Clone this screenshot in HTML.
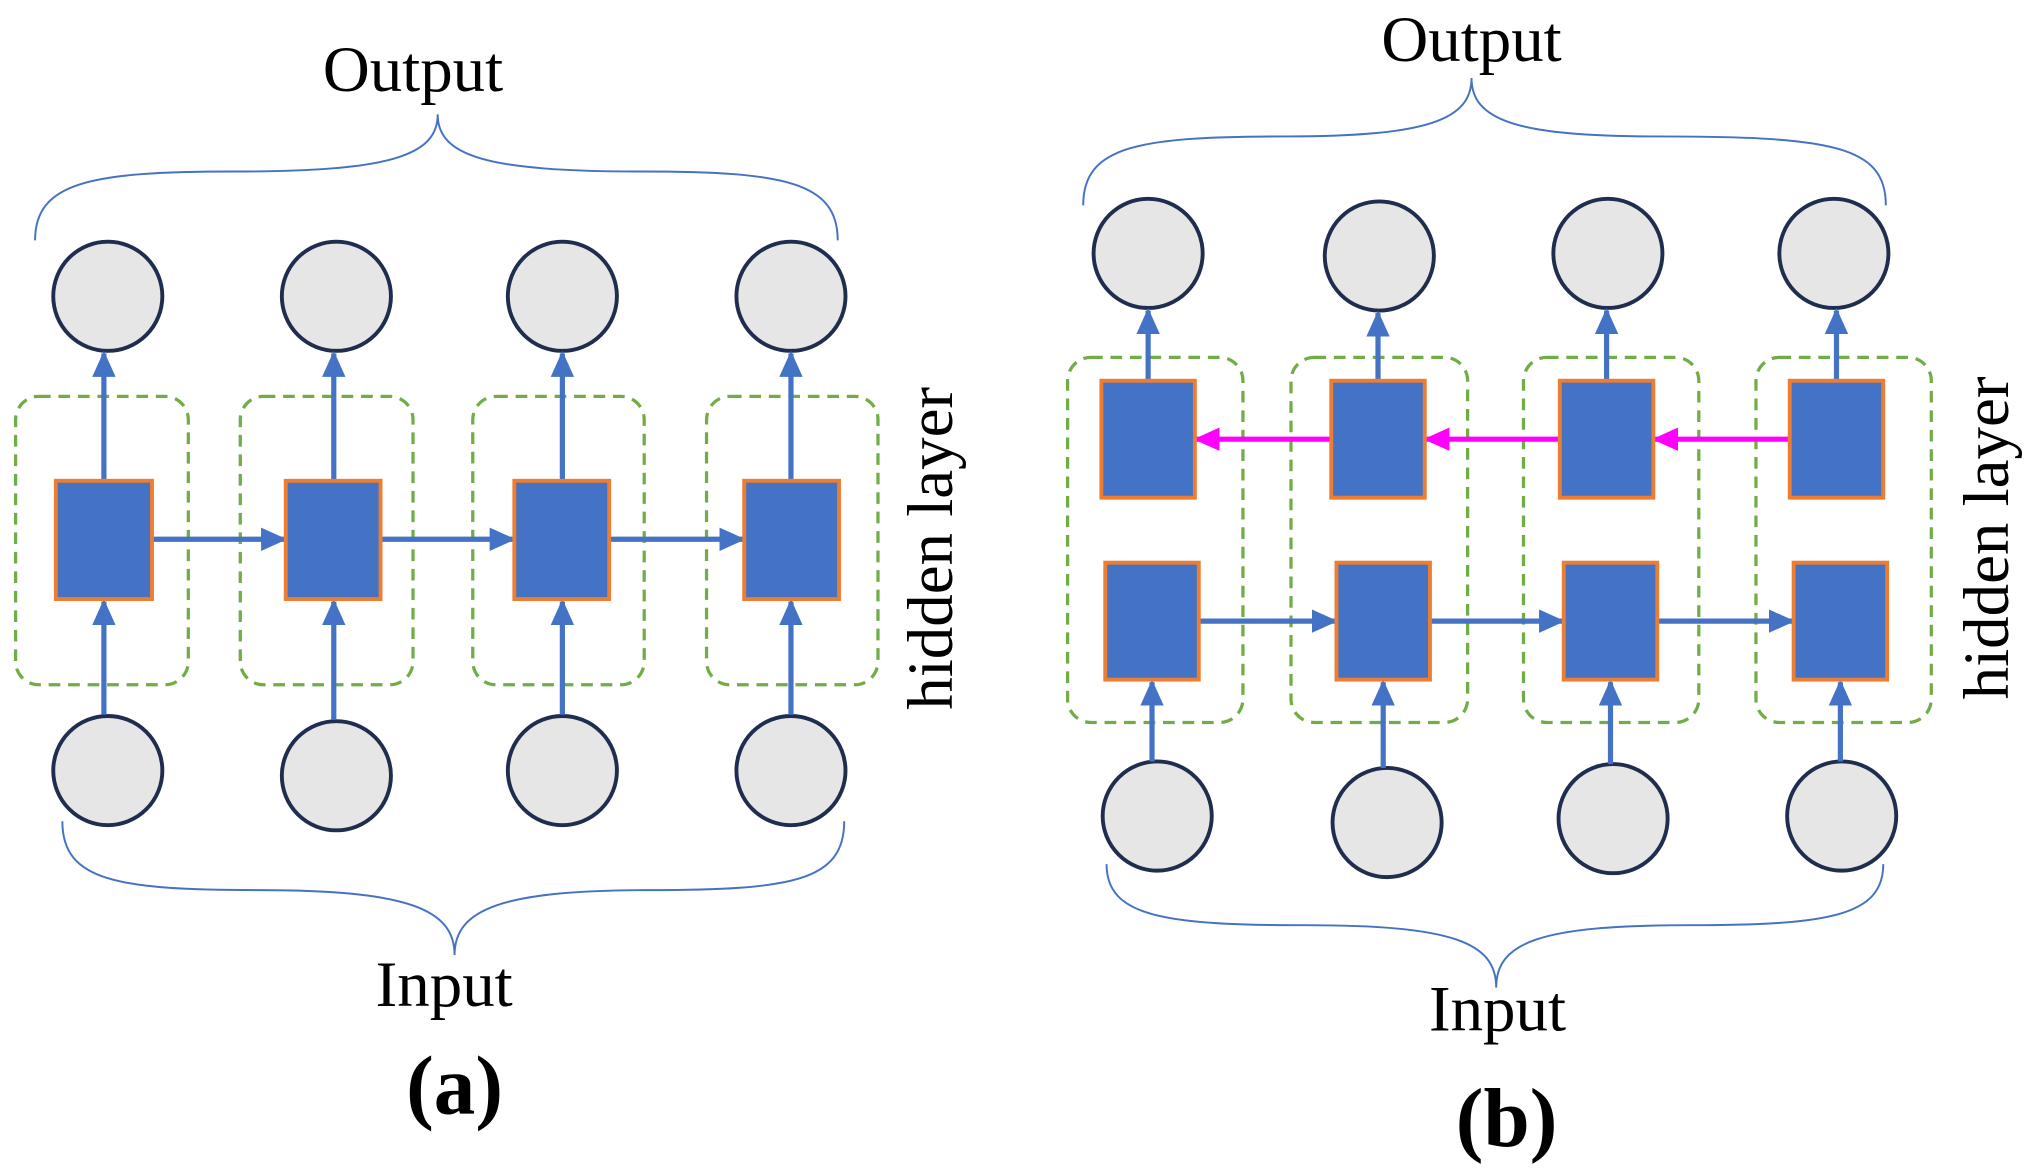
<!DOCTYPE html>
<html><head><meta charset="utf-8"><style>
html,body{margin:0;padding:0;background:#fff;width:2030px;height:1176px;overflow:hidden}
svg{display:block}
text{font-family:"Liberation Serif",serif;fill:#000}
</style></head><body>
<svg width="2030" height="1176" viewBox="0 0 1563 905" preserveAspectRatio="none">
<defs>
<marker id="abl" markerWidth="20" markerHeight="18" refX="18" refY="9" orient="auto" markerUnits="userSpaceOnUse"><path d="M0,0 L20,9 L0,18 z" fill="#4472C4"/></marker>
<marker id="aml" markerWidth="20" markerHeight="18" refX="18" refY="9" orient="auto" markerUnits="userSpaceOnUse"><path d="M0,0 L20,9 L0,18 z" fill="#FF00FF"/></marker>
</defs>
<g fill="none" stroke="#4472C4" stroke-width="1.5">
<path d="M27,185 C27,140 70,132 180,132 C300,132 337,120 337,88 C337,120 374,132 494,132 C604,132 645,140 645,185"/>
<path d="M48,632 C48,678 90,685 200,685 C315,685 350,700 350,735 C350,700 385,685 500,685 C610,685 650,678 650,632"/>
<path d="M834,158 C834,112 877,105 990,105 C1100,105 1133,92 1133,60 C1133,92 1166,105 1276,105 C1410,105 1452,112 1452,158"/>
<path d="M852,665 C852,705 895,712 1005,712 C1118,712 1152,725 1152,760 C1152,725 1186,712 1300,712 C1408,712 1450,705 1450,665"/>
</g>
<g fill="none" stroke="#70AD47" stroke-width="2.5" stroke-dasharray="9,6">
<rect x="12" y="305" width="133" height="222" rx="18"/>
<rect x="185" y="305" width="133" height="222" rx="18"/>
<rect x="364" y="305" width="132" height="222" rx="18"/>
<rect x="544" y="305" width="132" height="222" rx="18"/>
<rect x="822" y="275" width="135" height="281" rx="18"/>
<rect x="994" y="275" width="136" height="281" rx="18"/>
<rect x="1173" y="275" width="135" height="281" rx="18"/>
<rect x="1352" y="275" width="135" height="281" rx="18"/>
</g>
<g fill="#E6E6E6" stroke="#1F2D4E" stroke-width="3">
<circle cx="83" cy="228" r="42"/><circle cx="259" cy="228" r="42"/><circle cx="433" cy="228" r="42"/><circle cx="609" cy="228" r="42"/>
<circle cx="83" cy="593" r="42"/><circle cx="259" cy="597" r="42"/><circle cx="433" cy="593" r="42"/><circle cx="609" cy="593" r="42"/>
<circle cx="884" cy="195" r="42"/><circle cx="1062" cy="197" r="42"/><circle cx="1238" cy="195" r="42"/><circle cx="1412" cy="195" r="42"/>
<circle cx="891" cy="628" r="42"/><circle cx="1068" cy="633" r="42"/><circle cx="1242" cy="630" r="42"/><circle cx="1418" cy="628" r="42"/>
</g>
<g stroke="#4472C4" stroke-width="4" fill="none">
<line x1="80" y1="550" x2="80" y2="463" marker-end="url(#abl)"/>
<line x1="257" y1="554" x2="257" y2="463" marker-end="url(#abl)"/>
<line x1="433" y1="550" x2="433" y2="463" marker-end="url(#abl)"/>
<line x1="609" y1="550" x2="609" y2="463" marker-end="url(#abl)"/>
<line x1="80" y1="370" x2="80" y2="272" marker-end="url(#abl)"/>
<line x1="257" y1="370" x2="257" y2="272" marker-end="url(#abl)"/>
<line x1="433" y1="370" x2="433" y2="272" marker-end="url(#abl)"/>
<line x1="609" y1="370" x2="609" y2="272" marker-end="url(#abl)"/>
<line x1="117" y1="415" x2="219" y2="415" marker-end="url(#abl)"/>
<line x1="293" y1="415" x2="395" y2="415" marker-end="url(#abl)"/>
<line x1="469" y1="415" x2="572" y2="415" marker-end="url(#abl)"/>
<line x1="884" y1="293" x2="884" y2="239" marker-end="url(#abl)"/>
<line x1="1061" y1="293" x2="1061" y2="241" marker-end="url(#abl)"/>
<line x1="1237" y1="293" x2="1237" y2="239" marker-end="url(#abl)"/>
<line x1="1414" y1="293" x2="1414" y2="239" marker-end="url(#abl)"/>
<line x1="887" y1="586" x2="887" y2="525" marker-end="url(#abl)"/>
<line x1="1065" y1="591" x2="1065" y2="525" marker-end="url(#abl)"/>
<line x1="1240" y1="588" x2="1240" y2="525" marker-end="url(#abl)"/>
<line x1="1417" y1="586" x2="1417" y2="525" marker-end="url(#abl)"/>
<line x1="923" y1="478" x2="1028" y2="478" marker-end="url(#abl)"/>
<line x1="1101" y1="478" x2="1203" y2="478" marker-end="url(#abl)"/>
<line x1="1276" y1="478" x2="1380" y2="478" marker-end="url(#abl)"/>
</g>
<g stroke="#FF00FF" stroke-width="4">
<line x1="1025" y1="338" x2="921" y2="338" marker-end="url(#aml)"/>
<line x1="1201" y1="338" x2="1098" y2="338" marker-end="url(#aml)"/>
<line x1="1378" y1="338" x2="1274" y2="338" marker-end="url(#aml)"/>
</g>
<g fill="#4472C4" stroke="#ED7D31" stroke-width="3">
<rect x="43" y="370" width="74" height="91"/><rect x="220" y="370" width="73" height="91"/><rect x="396" y="370" width="73" height="91"/><rect x="573" y="370" width="73" height="91"/>
<rect x="848" y="293" width="72" height="90"/><rect x="1025" y="293" width="72" height="90"/><rect x="1201" y="293" width="72" height="90"/><rect x="1378" y="293" width="72" height="90"/>
<rect x="851" y="433" width="72" height="90"/><rect x="1029" y="433" width="72" height="90"/><rect x="1204" y="433" width="72" height="90"/><rect x="1381" y="433" width="72" height="90"/>
</g>
<g font-size="50" text-anchor="middle">
<text x="318" y="70">Output</text>
<text x="342" y="774">Input</text>
<text x="1133" y="47">Output</text>
<text x="1153" y="793">Input</text>
<text x="350" y="857" font-weight="bold" font-size="64">(a)</text>
<text x="1160" y="882" font-weight="bold" font-size="64">(b)</text>
<text transform="translate(733,422) rotate(-90)">hidden layer</text>
<text transform="translate(1546,414) rotate(-90)">hidden layer</text>
</g>
</svg>
</body></html>
